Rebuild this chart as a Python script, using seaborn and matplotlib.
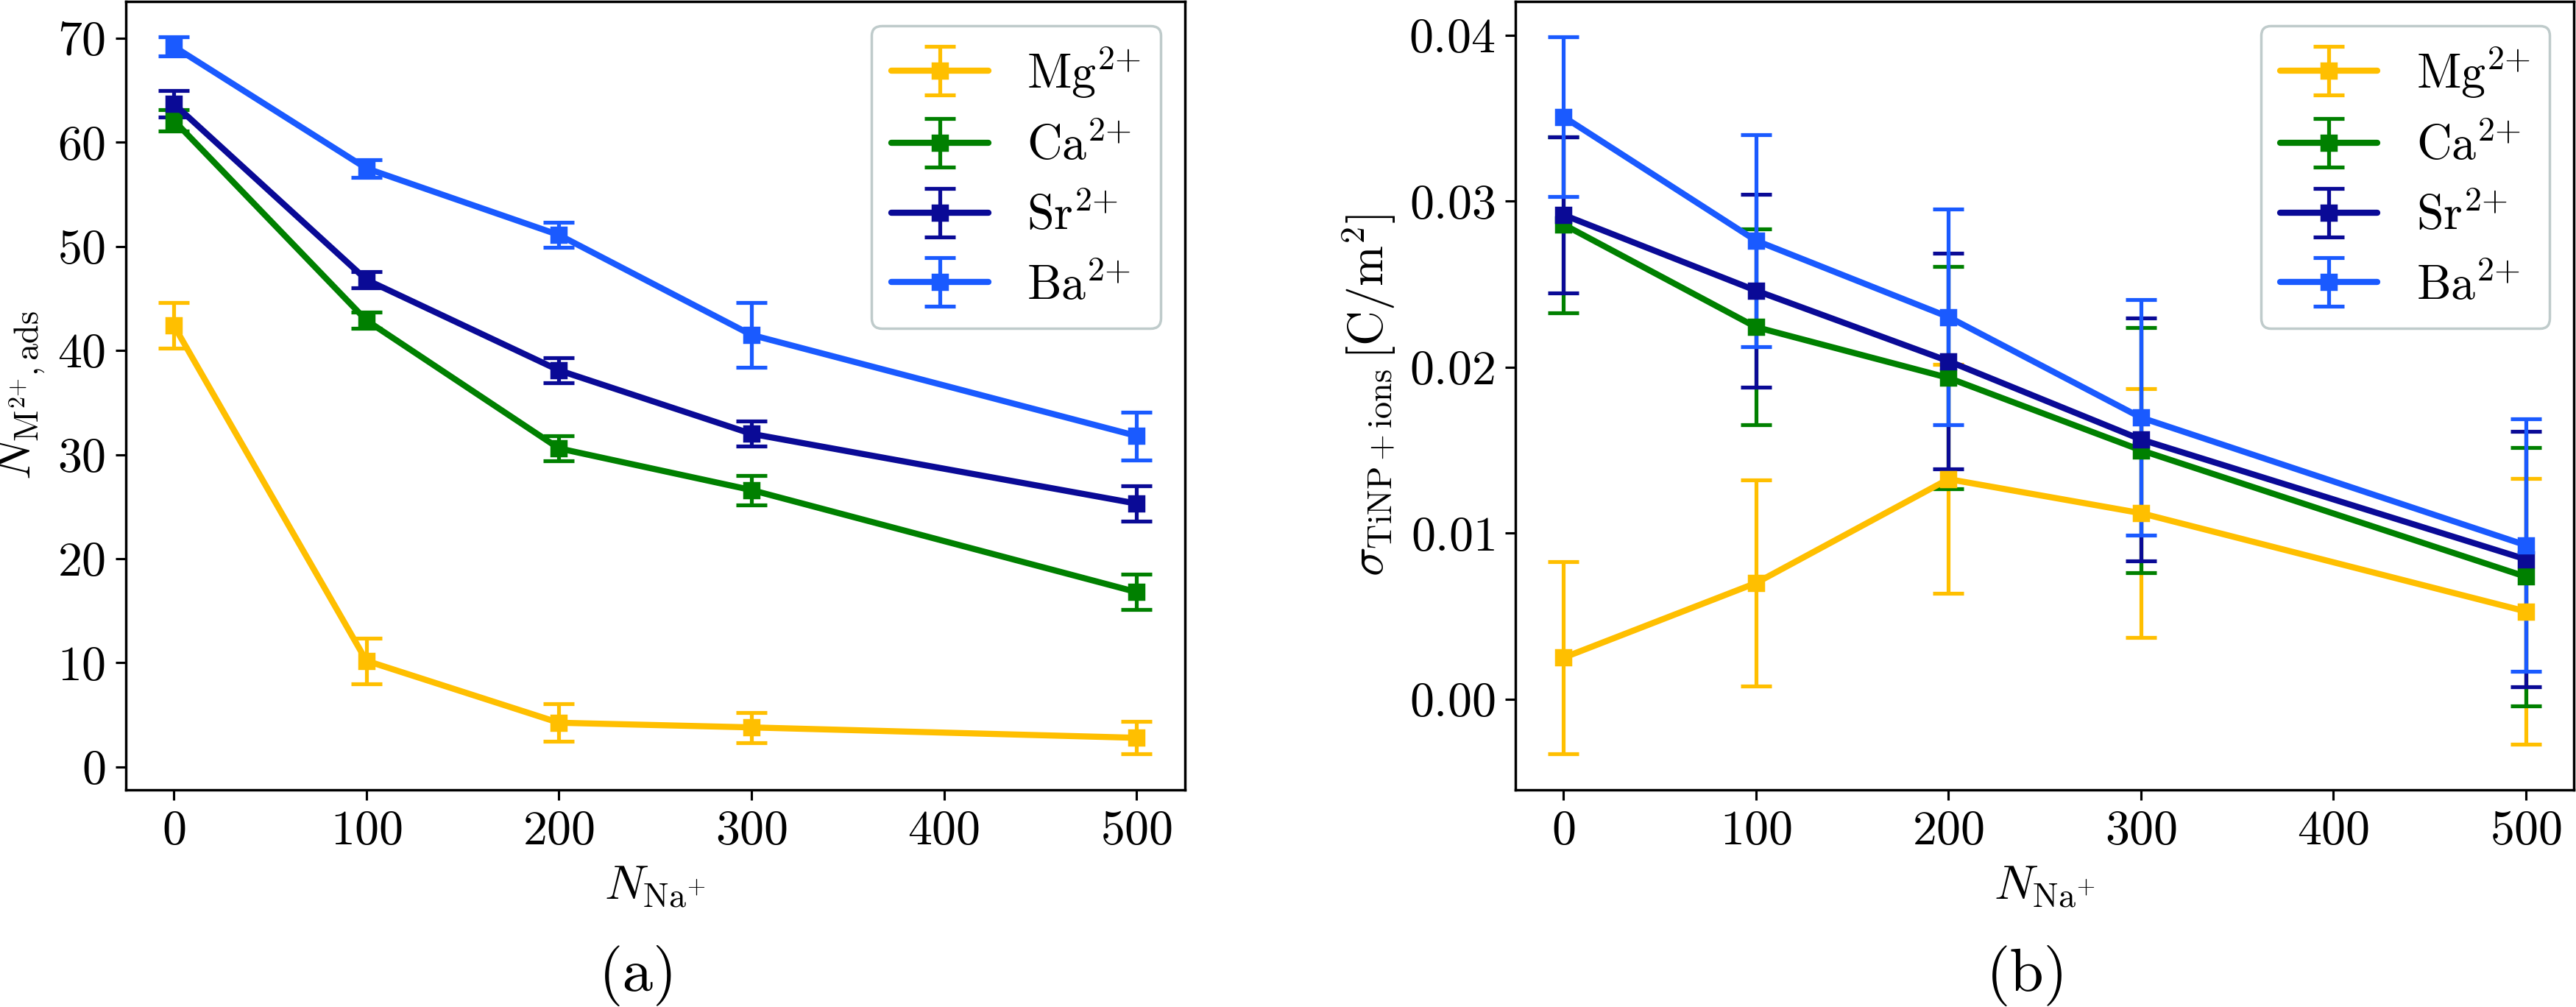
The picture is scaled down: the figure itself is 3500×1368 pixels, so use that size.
import matplotlib
matplotlib.use('Agg')
import matplotlib.pyplot as plt
import seaborn as sns

sns.set_theme(style='ticks')
matplotlib.rcParams['font.family'] = 'serif'
matplotlib.rcParams['font.serif'] = ['cmr10']
matplotlib.rcParams['mathtext.fontset'] = 'cm'
matplotlib.rcParams['axes.formatter.use_mathtext'] = True
matplotlib.rcParams['axes.edgecolor'] = 'black'
matplotlib.rcParams['xtick.color'] = 'black'
matplotlib.rcParams['ytick.color'] = 'black'
matplotlib.rcParams['axes.labelcolor'] = 'black'
matplotlib.rcParams['text.color'] = 'black'

n_na = [0, 100, 200, 300, 500]
ions = ['Mg$^{2{+}}$', 'Ca$^{2{+}}$', 'Sr$^{2{+}}$', 'Ba$^{2{+}}$']
colors = ['#FFBF00', '#008000', '#0A0A96', '#1A5AFF']

# (a) number of adsorbed divalent ions
ads_mg = [42.4, 10.2, 4.25, 3.8, 2.8]
ads_ca = [62.1, 42.9, 30.6, 26.6, 16.8]
ads_sr = [63.7, 46.8, 38.1, 32.0, 25.3]
ads_ba = [69.2, 57.5, 51.1, 41.5, 31.8]
ads_mg_err = [2.2, 2.2, 1.8, 1.45, 1.55]
ads_ca_err = [1.0, 0.8, 1.2, 1.4, 1.7]
ads_sr_err = [1.25, 0.8, 1.2, 1.2, 1.7]
ads_ba_err = [0.9, 0.85, 1.2, 3.1, 2.3]

# (b) surface charge density TiNP + ions
sig_mg = [0.0025, 0.0070, 0.01326, 0.01121, 0.00529]
sig_ca = [0.0286, 0.02242, 0.01936, 0.0150, 0.00738]
sig_sr = [0.02918, 0.02462, 0.02037, 0.01565, 0.00843]
sig_ba = [0.03509, 0.02763, 0.02303, 0.01697, 0.00928]
sig_mg_err = [0.0058, 0.0062, 0.0069, 0.0075, 0.0080]
sig_ca_err = [0.0053, 0.0059, 0.0067, 0.0074, 0.0078]
sig_sr_err = [0.0047, 0.0058, 0.0065, 0.0073, 0.0077]
sig_ba_err = [0.0048, 0.0064, 0.0065, 0.0071, 0.0076]


def draw_panel(ax, values, errors):
    for lab, col, y, e in zip(ions, colors, values, errors):
        ax.errorbar(n_na, y, yerr=e, fmt='-s', color=col, label=lab,
                    lw=2.4, ms=6, elinewidth=1.5, capsize=6, capthick=1.5)
    ax.set_xticks([0, 100, 200, 300, 400, 500])
    ax.tick_params(labelsize=19, length=4, width=0.9, pad=4)
    for s in ax.spines.values():
        s.set_linewidth(1.0)
    ax.set_xlabel(r'$N_{\mathrm{Na^{+}}}$', fontsize=19)
    ax.legend(loc='upper right', fontsize=19, frameon=True,
              edgecolor='#BFCBCB', framealpha=1.0)


fig = plt.figure(figsize=(14, 5.472), dpi=250)
ax_a = fig.add_axes([0.0488, 0.2157, 0.4111, 0.7830])
ax_b = fig.add_axes([0.5883, 0.2157, 0.4109, 0.7830])

draw_panel(ax_a, [ads_mg, ads_ca, ads_sr, ads_ba],
           [ads_mg_err, ads_ca_err, ads_sr_err, ads_ba_err])
ax_a.set_ylabel(r'$N_{\mathrm{M^{2{+}}},\mathrm{ads}}$', fontsize=19)

draw_panel(ax_b, [sig_mg, sig_ca, sig_sr, sig_ba],
           [sig_mg_err, sig_ca_err, sig_sr_err, sig_ba_err])
ax_b.set_yticks([0.0, 0.01, 0.02, 0.03, 0.04])
ax_b.set_ylabel(r'$\sigma_{\mathrm{TiNP+ions}}\,[\mathrm{C/m^{2}}]$', fontsize=19)

fig.text(0.2477, 0.031, '(a)', fontsize=24, ha='center', va='center')
fig.text(0.7869, 0.031, '(b)', fontsize=24, ha='center', va='center')

plt.savefig('out.png', dpi=250)
